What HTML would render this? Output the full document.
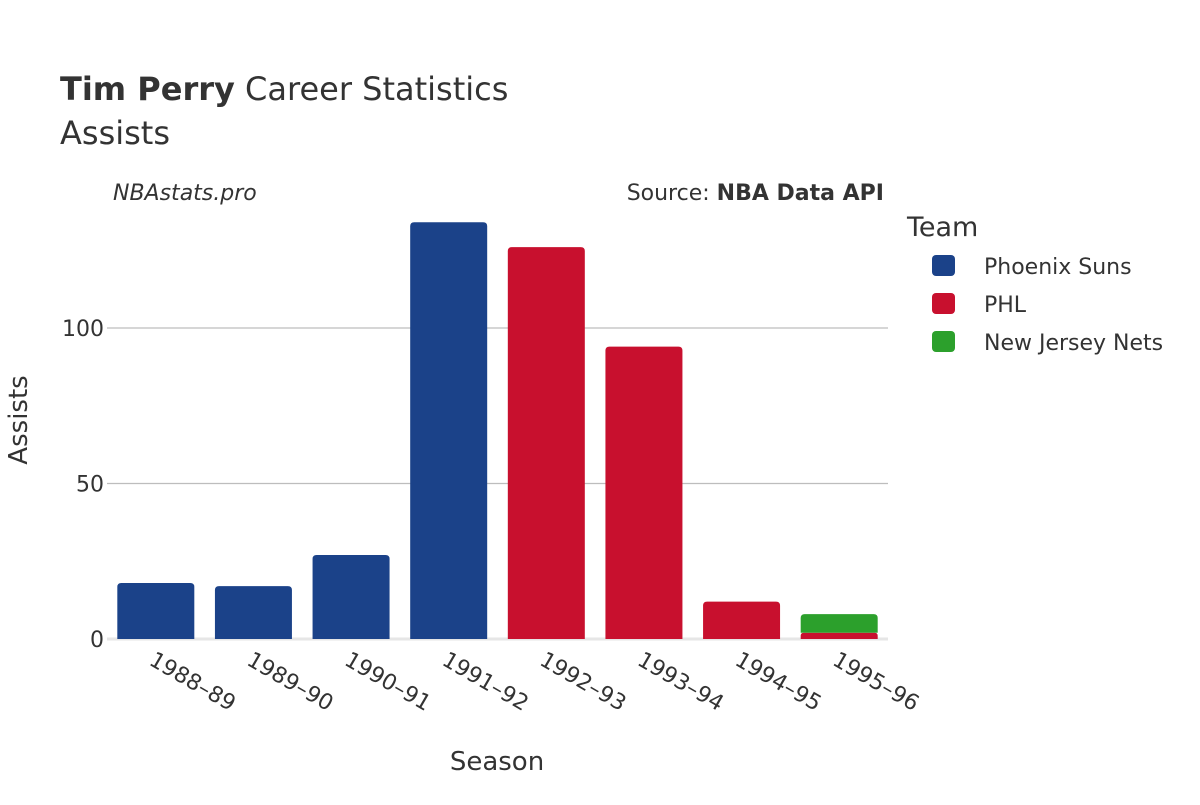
<!DOCTYPE html>
<html><head><meta charset="utf-8"><style>
body{margin:0;background:#fff;}
svg text{font-family:"DejaVu Sans","Liberation Sans",sans-serif;fill:#333;}
</style></head><body>
<svg id="chart" width="1200" height="800">
<text x="60" y="100" font-size="32"><tspan font-weight="bold">Tim Perry</tspan> Career Statistics</text>
<text x="60" y="144" font-size="32">Assists</text>
<text x="113" y="200" font-size="22" font-style="italic">NBAstats.pro</text>
<text x="884" y="200" font-size="22" text-anchor="end">Source: <tspan font-weight="bold">NBA Data API</tspan></text>
<g id="grid"></g>
<g id="bars"></g>
<g id="xticks"></g>
<text x="497" y="770" font-size="26" text-anchor="middle">Season</text>
<text transform="translate(27,420) rotate(-90)" font-size="26" text-anchor="middle">Assists</text>
<text x="907" y="236" font-size="27">Team</text>
<g id="legend"></g>
</svg>
<script>
const seasons=["1988–89","1989–90","1990–91","1991–92","1992–93","1993–94","1994–95","1995–96"];
const teams=["Phoenix Suns","PHL","New Jersey Nets"];
const colors=["#1b4289","#c8102e","#2ca02c"];
const suns=[18,17,27,134,0,0,0,0];
const phl=[0,0,0,0,126,94,12,2];
const nets=[0,0,0,0,0,0,0,6];
const yTicks=[0,50,100];
const series=[suns,phl,nets];
const NS="http://www.w3.org/2000/svg";
const x0=107,x1=888,y0=639,pxPer=3.11;
const band=(x1-x0)/seasons.length,bw=77;
const y=v=>y0-v*pxPer;
const xc=i=>x0+band*(i+0.5);
function mk(tag,attrs,parent){const e=document.createElementNS(NS,tag);for(const k in attrs)e.setAttribute(k,attrs[k]);parent.appendChild(e);return e;}
const grid=document.getElementById('grid');
yTicks.forEach(t=>{
  const l=mk('line',{x1:x0,x2:x1,y1:y(t),y2:y(t),stroke:t===0?'#e6e6e6':'#bdbdbd','stroke-width':t===0?3:1.3},grid);
  
  
  const tx=mk('text',{x:104,y:y(t)+8,'font-size':22,'text-anchor':'end'},grid);
  tx.textContent=t;
  
  
});
const bars=document.getElementById('bars');
seasons.forEach((s,i)=>{
  let base=0;
  series.forEach((arr,k)=>{
    const v=arr[i]; if(!v) return;
    const top=y(base+v),bot=y(base);
    const r=Math.min(4,(bot-top)/2);
    const xl=xc(i)-bw/2;
    const p=mk('path',{d:`M${xl},${bot}V${top+r}Q${xl},${top} ${xl+r},${top}H${xl+bw-r}Q${xl+bw},${top} ${xl+bw},${top+r}V${bot}Z`,fill:colors[k]},bars);
    
    
    base+=v;
  });
});
const xt=document.getElementById('xticks');
seasons.forEach((s,i)=>{
  const t=mk('text',{transform:`translate(${xc(i)-8},${664}) rotate(30)`,'font-size':22},xt);
  t.textContent=s;
  
  
});
const lg=document.getElementById('legend');
teams.forEach((n,k)=>{
  const g=mk('g',{},lg);
  
  
  mk('rect',{x:932,y:255+k*38,width:23,height:21,rx:4,fill:colors[k]},g);
  const t=mk('text',{x:984,y:274+k*38,'font-size':22},g);
  t.textContent=n;
});
</script>
</body></html>
